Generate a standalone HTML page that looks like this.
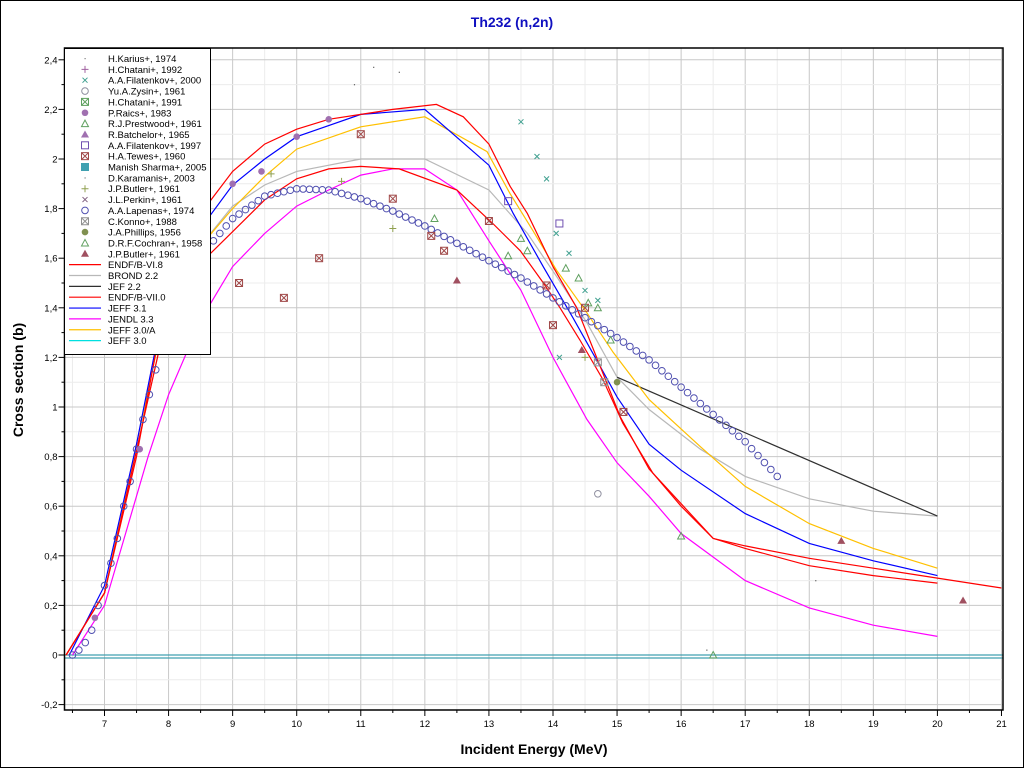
<!DOCTYPE html>
<html><head><meta charset="utf-8"><style>
html,body{margin:0;padding:0;background:#fff;}
svg{display:block;font-family:"Liberation Sans",sans-serif;}
</style></head><body>
<svg id="s" width="1024" height="768" xmlns="http://www.w3.org/2000/svg">
<rect x="0.5" y="0.5" width="1023" height="767" fill="#fff" stroke="#000"/>
<text x="512" y="27" text-anchor="middle" font-size="14" font-weight="bold" fill="#1010c0">Th232 (n,2n)</text>
<text x="534" y="754" text-anchor="middle" font-size="14" font-weight="bold">Incident Energy (MeV)</text>
<text transform="translate(23,380) rotate(-90)" text-anchor="middle" font-size="14" font-weight="bold">Cross section (b)</text>
<g id="grid"></g><g id="curves"></g><g id="pts"></g><g id="axes"></g><g id="leg"></g>
</svg>
<script>
var NS="http://www.w3.org/2000/svg";
function X(e){return 104.5+(e-7)*64.07;}
function Y(v){return 655-v*248;}
function el(p,t,a,txt){var e=document.createElementNS(NS,t);for(var k in a)e.setAttribute(k,a[k]);if(txt!==undefined)e.textContent=txt;document.getElementById(p).appendChild(e);return e;}
var L=64.5,R=1003,T=48,B=710;
for(var e=6.5;e<=21.01;e+=0.5){var x=X(e);if(x<L)continue;var maj=Math.abs(e-Math.round(e))<0.01;el("grid","line",{x1:x,x2:x,y1:T,y2:B,stroke:maj?"#c8c8c8":"#ececec"});}
for(var i=-2;i<=24;i++){var v=i/10,y=Y(v);if(y<T||y>B)continue;el("grid","line",{x1:L,x2:R,y1:y,y2:y,stroke:(i%2==0)?"#c8c8c8":"#ececec"});}
el("axes","rect",{x:L,y:T,width:R-L,height:B-T,fill:"none",stroke:"#000","stroke-width":1.5});
for(var i=-2;i<=24;i++){var y=Y(i/10);el("axes","line",{x1:L-(i%2==0?6:3),x2:L,y1:y,y2:y,stroke:"#000"});
 if(i%2==0)el("axes","text",{x:L-7,y:y+3.5,"text-anchor":"end","font-size":"9.5"},(i/10).toFixed(1).replace(".",",").replace(/,0$/,""));}
for(var e=6.5;e<=21.01;e+=0.5){var x=X(e);var maj=Math.abs(e-Math.round(e))<0.01;el("axes","line",{x1:x,x2:x,y1:B,y2:B+(maj?6:3),stroke:"#000"});
 if(maj)el("axes","text",{x:x,y:B+17,"text-anchor":"middle","font-size":"9.5"},String(Math.round(e)));}
function line(pts,c,w){var d=pts.map(function(p,i){return(i?"L":"M")+X(p[0]).toFixed(1)+" "+Y(p[1]).toFixed(1);}).join("");el("curves","path",{d:d,fill:"none",stroke:c,"stroke-width":w||1.2});}
el("curves","line",{x1:L,x2:R,y1:655,y2:655,stroke:"#40a0b0","stroke-width":1.2});
el("curves","line",{x1:L,x2:R,y1:658,y2:658,stroke:"#40a0b0","stroke-width":1.2});
// BROND gray
line([[6.4,0],[7,0.25],[8,1.4],[8.5,1.65],[9,1.81],[9.5,1.895],[10,1.95],[11,2.0],[12,2.0],[13,1.875],[13.6,1.70],[14.06,1.525],[14.53,1.34],[15,1.12],[15.5,0.99],[16.3,0.83],[17,0.72],[18,0.63],[19,0.58],[20,0.56]],"#b8b8b8");
line([[15,1.12],[20,0.56]],"#303030");
// JENDL magenta
line([[6.5,0],[7,0.2],[7.68,0.8],[8,1.05],[8.5,1.35],[9,1.566],[9.5,1.70],[10,1.81],[10.5,1.875],[11,1.935],[11.5,1.96],[12,1.96],[12.5,1.875],[13,1.67],[13.5,1.47],[14,1.2],[14.53,0.95],[15,0.775],[15.5,0.64],[16,0.49],[17,0.3],[18,0.19],[19,0.12],[20,0.075]],"#ff00ff");
// JEFF 3.0/A yellow
line([[6.4,0],[7,0.25],[8,1.45],[8.5,1.65],[9,1.80],[9.5,1.93],[10,2.04],[11,2.13],[12,2.17],[12.97,2.03],[13.33,1.86],[13.69,1.71],[14.06,1.55],[14.53,1.38],[14.94,1.22],[15.5,1.03],[16.3,0.84],[17,0.68],[18,0.53],[19,0.43],[20,0.35]],"#ffc000");
// JEFF 3.1 blue
line([[6.45,0],[7,0.28],[7.5,0.85],[8,1.5],[8.5,1.72],[9,1.895],[9.5,2.0],[10,2.09],[11,2.18],[12,2.2],[13,1.975],[13.38,1.78],[13.85,1.565],[14.31,1.36],[14.68,1.19],[15,1.04],[15.5,0.85],[16,0.745],[17,0.57],[18,0.45],[19,0.38],[20,0.32]],"#0000ff");
// ENDF/B-VI.8 upper red
line([[6.4,0],[7,0.25],[7.5,0.8],[8,1.5],[8.5,1.78],[9,1.95],[9.5,2.06],[10,2.12],[10.5,2.16],[11,2.18],[11.5,2.2],[12.18,2.22],[12.6,2.17],[13,2.06],[13.33,1.89],[13.6,1.78],[14,1.566],[14.37,1.40],[14.68,1.20],[15.05,0.96],[15.5,0.75],[16,0.61],[16.5,0.47],[17,0.43],[18,0.36],[19,0.32],[20,0.29]],"#ff0000");
// ENDF/B-VII.0 lower red
line([[6.4,0],[7,0.25],[8,1.4],[8.5,1.58],[9,1.707],[9.5,1.835],[10,1.92],[10.5,1.96],[11,1.97],[11.6,1.96],[12.5,1.875],[13.06,1.74],[13.49,1.63],[13.85,1.50],[14.11,1.40],[14.42,1.27],[14.78,1.11],[15.09,0.935],[15.56,0.733],[16,0.6],[16.5,0.47],[17,0.44],[18,0.39],[19,0.35],[20,0.31],[21,0.27]],"#ff0000");
var lp=[[6.5,0],[6.6,0.02],[6.7,0.05],[6.8,0.1],[6.9,0.2],[7,0.28],[7.1,0.37],[7.2,0.47],[7.3,0.6],[7.4,0.7],[7.5,0.83],[7.6,0.95],[7.7,1.05],[7.8,1.15],[7.9,1.25],[8,1.33],[8.2,1.47],[8.4,1.57],[8.7,1.67],[9,1.76],[9.5,1.85],[10,1.88],[10.5,1.875],[11,1.84],[11.5,1.79],[12,1.73],[12.5,1.66],[13,1.59],[13.5,1.52],[14,1.44],[14.5,1.36],[15,1.28],[15.5,1.19],[16,1.08],[16.5,0.97],[17,0.86],[17.5,0.72]];
function interp(e){for(var i=1;i<lp.length;i++)if(e<=lp[i][0]){var a=lp[i-1],b=lp[i];return a[1]+(b[1]-a[1])*(e-a[0])/(b[0]-a[0]);}return lp[lp.length-1][1];}
function mk(t,e,v,c){var x=X(e),y=Y(v);
 if(t=="o")el("pts","circle",{cx:x,cy:y,r:3.3,fill:"none",stroke:c});
 else if(t=="f")el("pts","circle",{cx:x,cy:y,r:3.3,fill:c});
 else if(t=="t")el("pts","path",{d:"M"+x+" "+(y-3.5)+"l3.5 6.5h-7z",fill:"none",stroke:c});
 else if(t=="T")el("pts","path",{d:"M"+x+" "+(y-4)+"l4 7h-8z",fill:c});
 else if(t=="s")el("pts","rect",{x:x-3.5,y:y-3.5,width:7,height:7,fill:"none",stroke:c});
 else if(t=="bx"){el("pts","rect",{x:x-3.5,y:y-3.5,width:7,height:7,fill:"none",stroke:c});el("pts","path",{d:"M"+(x-3)+" "+(y-3)+"l6 6M"+(x+3)+" "+(y-3)+"l-6 6",stroke:c});}
 else if(t=="x")el("pts","path",{d:"M"+(x-2.5)+" "+(y-2.5)+"l5 5M"+(x+2.5)+" "+(y-2.5)+"l-5 5",stroke:c});
 else if(t=="+")el("pts","path",{d:"M"+(x-3.5)+" "+y+"h7M"+x+" "+(y-3.5)+"v7",stroke:c});
 else if(t=="S")el("pts","rect",{x:x-4,y:y-4,width:8,height:8,fill:c});
 else if(t==".")el("pts","rect",{x:x-0.5,y:y-0.5,width:1.2,height:1.2,fill:c});
}
for(var e=6.5;e<=17.51;e+=0.1)mk("o",e,interp(e),"#5050b0");
[[9,1.9],[9.45,1.95],[10,2.09],[10.5,2.16],[6.85,0.15],[7.55,0.83]].forEach(function(p){mk("f",p[0],p[1],"#a070b0");});
[[9.1,1.5],[9.8,1.44],[10.35,1.6],[11,2.1],[11.5,1.84],[12.1,1.69],[12.3,1.63],[13,1.75],[13.9,1.49],[14,1.33],[14.5,1.4],[15.1,0.98]].forEach(function(p){mk("bx",p[0],p[1],"#a04848");});
[[12.5,1.51],[14.45,1.23],[18.5,0.46],[20.4,0.22]].forEach(function(p){mk("T",p[0],p[1],"#a05060");});
[[13.3,1.61],[13.5,1.68],[13.6,1.63],[14.2,1.56],[14.4,1.52],[14.7,1.4],[12.15,1.76],[16,0.48],[16.5,0],[14.9,1.27],[14.55,1.42]].forEach(function(p){mk("t",p[0],p[1],"#60a060");});
[[13.5,2.15],[13.75,2.01],[13.9,1.92],[14.05,1.7],[14.25,1.62],[14.5,1.47],[14.7,1.43],[14.1,1.2]].forEach(function(p){mk("x",p[0],p[1],"#40a090");});
[[14.1,1.74],[13.3,1.83]].forEach(function(p){mk("s",p[0],p[1],"#7050b0");});
mk("o",14.7,0.65,"#9090a0");
[[10.7,1.91],[11.5,1.72],[9.6,1.94],[14.5,1.2]].forEach(function(p){mk("+",p[0],p[1],"#90a050");});
mk("f",15,1.1,"#809050");
[[14.8,1.1],[14.7,1.18]].forEach(function(p){mk("bx",p[0],p[1],"#909090");});
[[11.2,2.37],[10.9,2.3],[11.6,2.35],[16.4,0.02],[18.1,0.3]].forEach(function(p){mk(".",p[0],p[1],"#606060");});
el("leg","rect",{x:64.5,y:48.5,width:146,height:306,fill:"#fff",stroke:"#000"});
var items=[[".","H.Karius+, 1974","#808080"],["+","H.Chatani+, 1992","#a060a0"],["x","A.A.Filatenkov+, 2000","#40a090"],["o","Yu.A.Zysin+, 1961","#9090a0"],["bx","H.Chatani+, 1991","#60a060"],["f","P.Raics+, 1983","#a070b0"],["t","R.J.Prestwood+, 1961","#60a060"],["T","R.Batchelor+, 1965","#a070b0"],["s","A.A.Filatenkov+, 1997","#7050b0"],["bx","H.A.Tewes+, 1960","#a04848"],["S","Manish Sharma+, 2005","#40a0b0"],[".","D.Karamanis+, 2003","#808080"],["+","J.P.Butler+, 1961","#90a050"],["x","J.L.Perkin+, 1961","#806080"],["o","A.A.Lapenas+, 1974","#5050b0"],["bx","C.Konno+, 1988","#909090"],["f","J.A.Phillips, 1956","#809050"],["t","D.R.F.Cochran+, 1958","#60a060"],["T","J.P.Butler+, 1961","#a05060"],
["L","ENDF/B-VI.8","#ff0000"],["L","BROND 2.2","#b8b8b8"],["L","JEF 2.2","#303030"],["L","ENDF/B-VII.0","#ff0000"],["L","JEFF 3.1","#0000ff"],["L","JENDL 3.3","#ff00ff"],["L","JEFF 3.0/A","#ffc000"],["L","JEFF 3.0","#00e0e0"]];
items.forEach(function(it,i){var y=58.5+i*10.85;
 if(it[0]=="L")el("leg","line",{x1:69,x2:101,y1:y,y2:y,stroke:it[2],"stroke-width":1.2});
 else{var x=85,c=it[2],t=it[0];var g=document.getElementById("pts");var m=document.getElementById("leg");
  var e=(x-104.5)/64.07+7,v=(655-y)/248;var before=g.childNodes.length;mk(t,e,v,c);while(g.childNodes.length>before)m.appendChild(g.childNodes[before]);}
 el("leg","text",{x:108,y:y+3.5,"font-size":"9.5"},it[1]);});
</script>
</body></html>
